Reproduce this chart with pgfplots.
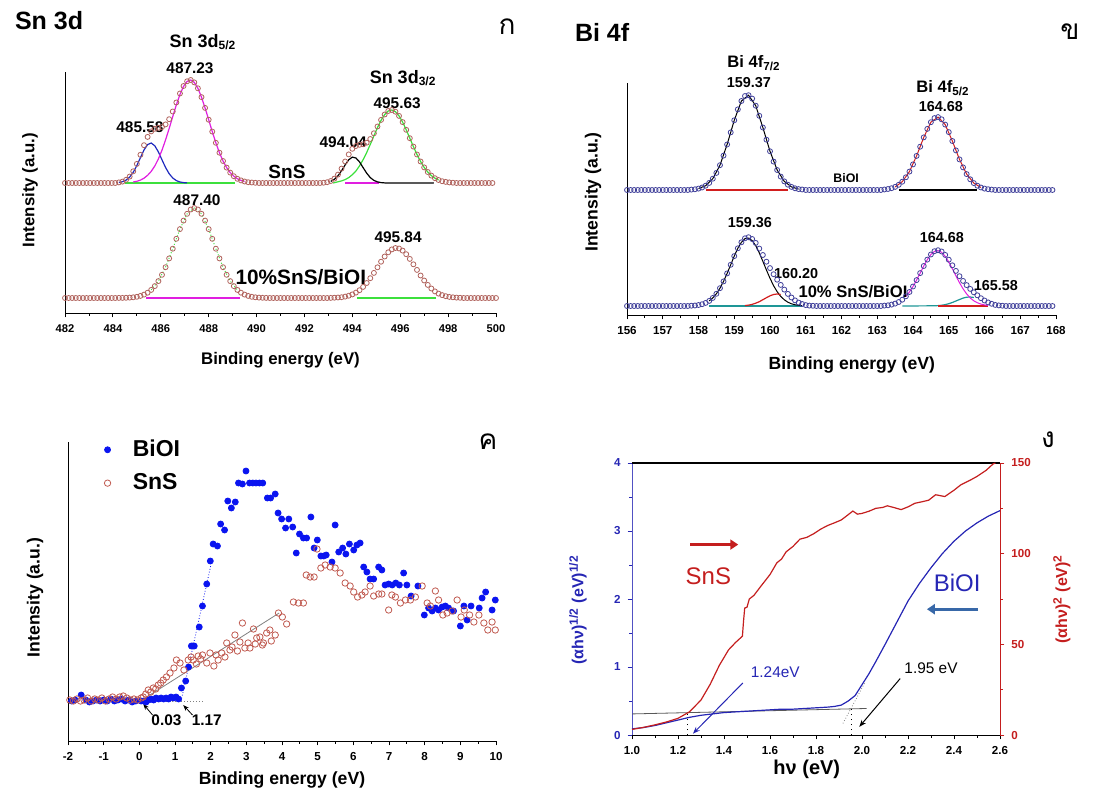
\documentclass[border=0pt]{standalone}
\usepackage{fontspec}
\setmainfont{Liberation Sans}
\newfontfamily\thaifont[Script=Thai]{Loma}
\usepackage{pgfplots}
\pgfplotsset{compat=1.18}
\usetikzlibrary{arrows.meta}
\newcommand\fs[1]{\fontsize{#1}{#1}\selectfont}
\definecolor{circA}{HTML}{B0625C}
\definecolor{fitM}{HTML}{E01EE0}
\definecolor{fitB}{HTML}{1E2ABE}
\definecolor{fitG}{HTML}{3CE03C}
\definecolor{circB}{HTML}{40409A}
\definecolor{fitT}{HTML}{1E9696}
\definecolor{fitR}{HTML}{D21E1E}
\definecolor{dotB}{HTML}{0A14F0}
\definecolor{circC}{HTML}{C05A50}
\definecolor{dblue}{HTML}{2626B4}
\definecolor{dred}{HTML}{C41E1E}
\definecolor{steel}{HTML}{3868A8}
\pgfplotsset{panel/.style={scale only axis, axis lines*=left, tick align=outside, ytick=\empty, clip=false,
  /pgf/number format/assume math mode=true, axis line style={line width=0.5pt},
  major tick length=2.2pt, minor tick length=1.3pt, every tick/.style={black,line width=0.4pt}}}
\begin{document}
\begin{tikzpicture}
\useasboundingbox (0,0) rectangle (553.5pt,-395.5pt);
% ---------------- (a) Sn 3d
\begin{axis}[panel, at={(32.5pt,-156.5pt)}, anchor=south west, width=215.5pt, height=120.5pt,
  xmin=482, xmax=500, ymin=0, ymax=241, xtick={482,484,...,500}, minor x tick num=1,
  tick label style={font=\bfseries\fs{5.6}}, label style={font=\bfseries\fs{8.4}},
  xlabel={Binding energy (eV)}, ylabel={Intensity (a.u.)},
  xlabel style={at={(axis description cs:0.5,-0.195)},anchor=center},
  ylabel style={at={(axis description cs:-0.081,0.51)},anchor=center}]
\addplot[fitG, line width=0.6pt] coordinates {(484.5,130)(489.1,130)};
\addplot[fitB, line width=0.6pt] coordinates {(484.25,130.5)(484.40,131.3)(484.55,132.9)(484.70,135.9)(484.85,140.7)(485.00,147.4)(485.15,155.3)(485.30,163.0)(485.45,168.4)(485.60,170.0)(485.75,167.2)(485.90,161.1)(486.05,153.2)(486.20,145.5)(486.35,139.3)(486.50,135.0)(486.65,132.4)(486.80,131.0)(486.95,130.4)(487.10,130.1)};
\addplot[fitM, line width=0.6pt] coordinates {(484.85,131.0)(485.00,131.7)(485.15,132.9)(485.30,134.8)(485.45,137.7)(485.60,141.6)(485.75,147.0)(485.90,154.1)(486.05,162.8)(486.20,173.1)(486.35,184.5)(486.50,196.5)(486.65,208.1)(486.80,218.5)(486.95,226.6)(487.10,231.6)(487.25,233.0)(487.40,230.6)(487.55,224.7)(487.70,215.9)(487.85,205.1)(488.00,193.3)(488.15,181.4)(488.30,170.2)(488.45,160.3)(488.60,152.0)(488.75,145.4)(488.90,140.4)(489.05,136.8)(489.20,134.2)(489.35,132.6)(489.50,131.5)};
\addplot[fitG, line width=0.6pt] coordinates {(493.2,130)(493.40,131.2)(493.55,132.1)(493.70,133.4)(493.85,135.4)(494.00,138.3)(494.15,142.0)(494.30,147.1)(494.45,153.3)(494.60,160.5)(494.75,168.6)(494.90,177.1)(495.05,185.4)(495.20,192.7)(495.35,198.4)(495.50,202.0)(495.65,203.0)(495.80,201.3)(495.95,197.1)(496.10,190.9)(496.25,183.2)(496.40,174.8)(496.55,166.4)(496.70,158.5)(496.85,151.5)(497.00,145.6)(497.15,141.0)(497.30,137.4)(497.45,134.8)(497.60,133.0)};
\addplot[fitM, line width=0.6pt] coordinates {(493.7,130)(495.1,130)};
\addplot[black, line width=0.6pt] coordinates {(493.10,131.6)(493.25,133.7)(493.40,137.2)(493.55,142.3)(493.70,148.1)(493.85,153.2)(494.00,155.9)(494.15,155.0)(494.30,151.1)(494.45,145.4)(494.60,139.8)(494.75,135.4)(494.90,132.6)(495.05,131.1)(495.20,130.4)(495.35,130.1)(497.4,130)};
\addplot[fitM, line width=0.6pt] coordinates {(485.4,15)(489.3,15)};
\addplot[fitG, line width=0.5pt, densely dotted] coordinates {(485.60,23.1)(485.90,31.9)(486.20,45.8)(486.50,64.3)(486.80,83.9)(487.10,99.2)(487.40,105.0)(487.70,99.2)(488.00,83.9)(488.30,64.3)(488.60,45.8)(488.90,31.9)(489.20,23.1)};
\addplot[fitG, line width=0.6pt] coordinates {(494.2,15)(497.5,15)};
\addplot[only marks, mark=o, mark size=1.25pt, circA, mark options={line width=0.4pt}] coordinates {
(482.00,130)(482.15,130)(482.30,130)(482.45,130)(482.60,130)(482.75,130)(482.90,130)(483.05,130)(483.20,130)(483.35,130)(483.50,130)(483.65,130)(483.80,130)(483.95,130)
(484.10,130.0)(484.25,130.6)(484.40,131.4)(484.55,133.2)(484.70,136.4)(484.85,141.7)(485.00,149.1)(485.15,158.2)(485.30,167.8)(485.45,176.1)(485.60,181.6)(485.75,184.2)(485.90,185.2)(486.05,186.0)(486.20,188.6)(486.35,193.8)(486.50,201.5)(486.65,210.5)(486.80,219.5)(486.95,227.0)(487.10,231.7)(487.25,233.0)(487.40,230.6)(487.55,224.7)(487.70,215.9)(487.85,205.1)(488.00,193.3)(488.15,181.4)(488.30,170.2)(488.45,160.3)(488.60,152.0)(488.75,145.4)(488.90,140.4)(489.05,136.8)(489.20,134.2)(489.35,132.6)(489.50,131.5)(489.65,130.8)(489.80,130.5)(489.95,130.2)
(490.10,130)(490.25,130)(490.40,130)(490.55,130)(490.70,130)(490.85,130)(491.00,130)(491.15,130)(491.30,130)(491.45,130)(491.60,130)(491.75,130)(491.90,130)(492.05,130)(492.20,130)(492.35,130)(492.50,130)(492.65,130)
(492.80,130.3)(492.95,130.8)(493.10,132.0)(493.25,134.4)(493.40,138.4)(493.55,144.4)(493.70,151.5)(493.85,158.6)(494.00,164.2)(494.15,167.0)(494.30,168.2)(494.45,168.7)(494.60,170.3)(494.75,174.0)(494.90,179.7)(495.05,186.5)(495.20,193.1)(495.35,198.5)(495.50,202.0)(495.65,203.0)(495.80,201.3)(495.95,197.1)(496.10,190.9)(496.25,183.2)(496.40,174.8)(496.55,166.4)(496.70,158.5)(496.85,151.5)(497.00,145.6)(497.15,141.0)(497.30,137.4)(497.45,134.8)(497.60,133.0)(497.75,131.8)(497.90,131.1)(498.05,130.6)(498.20,130.3)
(498.35,130)(498.50,130)(498.65,130)(498.80,130)(498.95,130)(499.10,130)(499.25,130)(499.40,130)(499.55,130)(499.70,130)(499.85,130)};
\addplot[only marks, mark=o, mark size=1.25pt, circA, mark options={line width=0.4pt}] coordinates {
(482.00,15)(482.15,15)(482.30,15)(482.45,15)(482.60,15)(482.75,15)(482.90,15)(483.05,15)(483.20,15)(483.35,15)(483.50,15)(483.65,15)(483.80,15)(483.95,15)
(484.10,15.0)(484.25,15.1)(484.40,15.1)(484.55,15.2)(484.70,15.4)(484.85,15.7)(485.00,16.2)(485.15,17.1)(485.30,18.4)(485.45,20.3)(485.60,23.1)(485.75,26.9)(485.90,31.9)(486.05,38.2)(486.20,45.8)(486.35,54.6)(486.50,64.3)(486.65,74.2)(486.80,83.9)(486.95,92.4)(487.10,99.2)(487.25,103.5)(487.40,105.0)(487.55,103.5)(487.70,99.2)(487.85,92.4)(488.00,83.9)(488.15,74.2)(488.30,64.3)(488.45,54.6)(488.60,45.8)(488.75,38.2)(488.90,31.9)(489.05,26.9)(489.20,23.1)(489.35,20.3)(489.50,18.4)(489.65,17.1)(489.80,16.2)(489.95,15.7)(490.10,15.4)(490.25,15.2)(490.40,15.1)
(490.55,15)(490.70,15)(490.85,15)(491.00,15)(491.15,15)(491.30,15)(491.45,15)(491.60,15)(491.75,15)(491.90,15)(492.05,15)(492.20,15)(492.35,15)(492.50,15)(492.65,15)(492.80,15)(492.95,15)
(493.10,15.1)(493.25,15.3)(493.40,15.5)(493.55,15.8)(493.70,16.4)(493.85,17.3)(494.00,18.6)(494.15,20.4)(494.30,22.8)(494.45,26.1)(494.60,30.0)(494.75,34.8)(494.90,40.1)(495.05,45.7)(495.20,51.3)(495.35,56.5)(495.50,60.7)(495.65,63.6)(495.80,65.0)(495.95,64.5)(496.10,62.4)(496.25,58.8)(496.40,54.1)(496.55,48.7)(496.70,43.1)(496.85,37.5)(497.00,32.5)(497.15,28.1)(497.30,24.5)(497.45,21.6)(497.60,19.4)(497.75,17.9)(497.90,16.8)(498.05,16.1)(498.20,15.7)(498.35,15.4)(498.50,15.2)
(498.65,15)(498.80,15)(498.95,15)(499.10,15)(499.25,15)(499.40,15)(499.55,15)(499.70,15)(499.85,15)(500.00,15)};
\node[font=\bfseries\fs{9}] at (axis cs:487.76,271) {Sn 3d\textsubscript{5/2}};
\node[font=\bfseries\fs{7.7}] at (axis cs:487.22,245) {487.23};
\node[font=\bfseries\fs{7.7}] at (axis cs:485.13,186) {485.58};
\node[font=\bfseries\fs{9}] at (axis cs:496.12,235) {Sn 3d\textsubscript{3/2}};
\node[font=\bfseries\fs{7.7}] at (axis cs:495.87,210) {495.63};
\node[font=\bfseries\fs{7.7}] at (axis cs:493.62,171) {494.04};
\node[font=\bfseries\fs{9.5}] at (axis cs:491.27,141) {SnS};
\node[font=\bfseries\fs{7.7}] at (axis cs:487.51,113) {487.40};
\node[font=\bfseries\fs{7.7}] at (axis cs:495.91,76) {495.84};
\node[font=\bfseries\fs{10.4}] at (axis cs:491.85,36) {10\%SnS/BiOI};
\end{axis}
% ---------------- (b) Bi 4f
\begin{axis}[panel, at={(313.5pt,-157.5pt)}, anchor=south west, width=214.5pt, height=116pt,
  xmin=156, xmax=168, ymin=0, ymax=232, xtick={156,...,168}, minor x tick num=1,
  tick label style={font=\bfseries\fs{5.8}}, label style={font=\bfseries\fs{8.8}},
  xlabel={Binding energy (eV)}, ylabel={Intensity (a.u.)},
  xlabel style={at={(axis description cs:0.524,-0.215)},anchor=center},
  ylabel style={at={(axis description cs:-0.079,0.53)},anchor=center}]
\addplot[fitR, line width=0.6pt] coordinates {(158.2,125)(160.5,125)};
\addplot[black, line width=0.5pt] coordinates {(158.0,126.4)(158.2,129.3)(158.4,136.3)(158.6,149.8)(158.8,170.5)(159.0,194.7)(159.2,214.0)(159.4,219.8)(159.6,209.3)(159.8,187.5)(160.0,163.7)(160.2,145.0)(160.4,133.6)(160.6,128.1)(160.8,125.9)};
\addplot[black, line width=0.6pt] coordinates {(163.6,125)(165.8,125)};
\addplot[fitR, line width=0.5pt] coordinates {(163.5,128.1)(163.7,133.3)(163.9,143.4)(164.1,159.1)(164.3,177.6)(164.5,192.8)(164.7,197.9)(164.9,190.4)(165.1,174.0)(165.3,155.6)(165.5,140.9)(165.7,131.9)(165.9,127.5)};
\addplot[fitT, line width=0.6pt] coordinates {(158.3,9)(160.9,9)};
\addplot[black, line width=0.5pt] coordinates {(158.3,14.1)(158.4,17.1)(158.5,21.2)(158.6,26.8)(158.7,33.6)(158.8,41.6)(158.9,50.2)(159.0,58.9)(159.1,66.7)(159.2,72.7)(159.3,76.3)(159.4,76.9)(159.5,74.4)(159.6,69.3)(159.7,62.1)(159.8,53.7)(159.9,45.0)(160.0,36.7)(160.1,29.3)(160.2,23.3)(160.3,18.6)(160.4,15.2)(160.5,12.8)(160.6,11.2)(160.7,10.25)(160.8,9.7)(160.9,9.3)};
\addplot[fitR, line width=0.6pt] coordinates {(159.3,9.4)(159.4,9.9)(159.5,10.6)(159.6,11.8)(159.7,13.3)(159.8,15.3)(159.9,17.3)(160.0,19.2)(160.1,20.5)(160.2,21.0)(160.3,20.5)};
\addplot[fitT, line width=0.6pt] coordinates {(163.7,9)(164.6,9.2)(164.7,9.4)(164.8,9.75)(164.9,10.4)(165.0,11.3)(165.1,12.5)(165.2,14.0)(165.3,15.5)(165.4,16.9)(165.5,17.8)(165.6,18.0)(165.7,17.5)};
\addplot[fitR, line width=0.6pt] coordinates {(164.7,9)(166.1,9)};
\addplot[fitM, line width=0.5pt] coordinates {(163.8,18.65)(163.9,23.0)(164.0,28.5)(164.1,34.9)(164.2,41.9)(164.3,49.0)(164.4,55.4)(164.5,60.5)(164.6,63.6)(164.7,64.4)(164.8,62.7)(164.9,58.7)(165.0,53.0)(165.1,46.2)(165.2,39.1)(165.3,32.3)(165.4,26.2)(165.5,21.1)(165.6,17.1)(165.7,14.2)(165.8,12.25)(165.9,10.9)(166.0,10.1)(166.1,9.6)};
\addplot[only marks, mark=o, mark size=1.25pt, circB, mark options={line width=0.4pt}] coordinates {
(156.0,125)(156.1,125)(156.2,125)(156.3,125)(156.4,125)(156.5,125)(156.6,125)(156.7,125)(156.8,125)(156.9,125)(157.0,125)(157.1,125)(157.2,125)(157.3,125)(157.4,125)(157.5,125)(157.6,125)(157.7,125)
(157.8,125.4)(157.9,125.7)(158.0,126.4)(158.1,127.5)(158.2,129.3)(158.3,132.1)(158.4,136.3)(158.5,142.1)(158.6,149.8)(158.7,159.4)(158.8,170.5)(158.9,182.6)(159.0,194.7)(159.1,205.6)(159.2,214.0)(159.3,219.0)(159.4,219.8)(159.5,216.4)(159.6,209.3)(159.7,199.2)(159.8,187.5)(159.9,175.3)(160.0,163.7)(160.1,153.4)(160.2,145.0)(160.3,138.4)(160.4,133.6)(160.5,130.3)(160.6,128.1)(160.7,126.7)(160.8,125.9)(160.9,125.5)
(161.0,125)(161.1,125)(161.2,125)(161.3,125)(161.4,125)(161.5,125)(161.6,125)(161.7,125)(161.8,125)(161.9,125)(162.0,125)(162.1,125)(162.2,125)(162.3,125)(162.4,125)(162.5,125)(162.6,125)(162.7,125)(162.8,125)(162.9,125)(163.0,125)(163.1,125)
(163.2,125.5)(163.3,126.0)(163.4,126.8)(163.5,128.1)(163.6,130.2)(163.7,133.3)(163.8,137.7)(163.9,143.4)(164.0,150.6)(164.1,159.1)(164.2,168.3)(164.3,177.6)(164.4,186.1)(164.5,192.8)(164.6,196.9)(164.7,197.9)(164.8,195.7)(164.9,190.4)(165.0,182.9)(165.1,174.0)(165.2,164.6)(165.3,155.6)(165.4,147.6)(165.5,140.9)(165.6,135.7)(165.7,131.9)(165.8,129.3)(165.9,127.5)(166.0,126.4)(166.1,125.8)(166.2,125.4)
(166.3,125)(166.4,125)(166.5,125)(166.6,125)(166.7,125)(166.8,125)(166.9,125)(167.0,125)(167.1,125)(167.2,125)(167.3,125)(167.4,125)(167.5,125)(167.6,125)(167.7,125)(167.8,125)(167.9,125)};
\addplot[only marks, mark=o, mark size=1.25pt, circB, mark options={line width=0.4pt}] coordinates {
(156.0,9)(156.1,9)(156.2,9)(156.3,9)(156.4,9)(156.5,9)(156.6,9)(156.7,9)(156.8,9)(156.9,9)(157.0,9)(157.1,9)(157.2,9)(157.3,9)(157.4,9)(157.5,9)(157.6,9)(157.7,9)
(157.8,9.3)(157.9,9.5)(158.0,10.0)(158.1,10.8)(158.2,12.1)(158.3,14.1)(158.4,17.1)(158.5,21.2)(158.6,26.8)(158.7,33.6)(158.8,41.6)(158.9,50.2)(159.0,58.9)(159.1,66.7)(159.2,72.7)(159.3,76.7)(159.4,77.8)(159.5,76.0)(159.6,72.1)(159.7,66.4)(159.8,60.0)(159.9,53.3)(160.0,46.9)(160.1,40.8)(160.2,35.3)(160.3,30.1)(160.4,25.4)(160.5,21.1)(160.6,17.5)(160.7,14.6)(160.8,12.4)(160.9,11.0)(161.0,9.9)(161.1,9.4)(161.2,9.2)
(161.3,9)(161.4,9)(161.5,9)(161.6,9)(161.7,9)(161.8,9)(161.9,9)(162.0,9)(162.1,9)(162.2,9)(162.3,9)(162.4,9)(162.5,9)(162.6,9)(162.7,9)(162.8,9)(162.9,9)(163.0,9)(163.1,9)
(163.2,9.4)(163.3,9.7)(163.4,10.4)(163.5,11.4)(163.6,13.0)(163.7,15.3)(163.8,18.7)(163.9,23.0)(164.0,28.5)(164.1,34.9)(164.2,41.9)(164.3,49.0)(164.4,55.4)(164.5,60.5)(164.6,63.8)(164.7,64.8)(164.8,63.5)(164.9,60.1)(165.0,55.3)(165.1,49.7)(165.2,44.1)(165.3,38.8)(165.4,34.1)(165.5,29.9)(165.6,26.1)(165.7,22.7)(165.8,19.7)(165.9,16.8)(166.0,14.5)(166.1,12.6)(166.2,11.2)(166.3,10.1)(166.4,9.6)(166.5,9.3)
(166.6,9)(166.7,9)(166.8,9)(166.9,9)(167.0,9)(167.1,9)(167.2,9)(167.3,9)(167.4,9)(167.5,9)(167.6,9)(167.7,9)(167.8,9)(167.9,9)};
\node[font=\bfseries\fs{8.3}] at (axis cs:159.55,252) {Bi 4f\textsubscript{7/2}};
\node[font=\bfseries\fs{7.2}] at (axis cs:159.41,232) {159.37};
\node[font=\bfseries\fs{8.3}] at (axis cs:164.84,227) {Bi 4f\textsubscript{5/2}};
\node[font=\bfseries\fs{7.2}] at (axis cs:164.78,208) {164.68};
\node[font=\bfseries\fs{6.2}] at (axis cs:162.13,137) {BiOI};
\node[font=\bfseries\fs{7.2}] at (axis cs:159.44,92) {159.36};
\node[font=\bfseries\fs{7.2}] at (axis cs:164.81,77) {164.68};
\node[font=\bfseries\fs{7.2}] at (axis cs:160.73,41) {160.20};
\node[font=\bfseries\fs{7.2}] at (axis cs:166.32,29) {165.58};
\node[font=\bfseries\fs{8.3}] at (axis cs:162.32,23) {10\% SnS/BiOI};
\end{axis}
% ---------------- (c) valence band
\begin{axis}[panel, at={(34pt,-370.5pt)}, anchor=south west, width=214pt, height=149.5pt,
  xmin=-2, xmax=10, ymin=0, ymax=299, xtick={-2,...,10}, minor x tick num=1,
  tick label style={font=\bfseries\fs{5.8}}, label style={font=\bfseries\fs{8.8}},
  xlabel={Binding energy (eV)}, ylabel={Intensity (a.u.)},
  xlabel style={at={(axis description cs:0.5,-0.13)},anchor=center},
  ylabel style={at={(axis description cs:-0.077,0.48)},anchor=center},
  legend style={draw=none, fill=none, font=\bfseries\fs{11.5}, at={(axis description cs:0.07,1.035)}, anchor=north west, row sep=3pt,
    /tikz/every odd column/.append style={column sep=9pt}},
  legend cell align=left]
\addplot[only marks, mark=*, mark size=1.5pt, dotB] coordinates {
(-1.90,40)(-1.80,41)(-1.63,46)(-1.50,41)(-1.40,39)(-1.30,40)(-1.20,41)(-1.10,40)(-1.00,41)(-0.90,40)(-0.80,42)(-0.70,40)(-0.60,41)(-0.50,42)(-0.40,40)(-0.30,41)(-0.20,39)(-0.10,40)
(0.05,40)(0.12,40)(0.19,39)(0.26,41)(0.33,42)(0.40,41)(0.47,43)(0.54,42)(0.61,43)(0.68,42)(0.75,43)(0.82,42)(0.89,44)(0.96,43)(1.03,44)(1.10,42)
(1.18,53)(1.30,60)(1.38,74)(1.46,95)(1.50,95)(1.54,95)(1.68,114)(1.77,135)(1.89,157)(1.99,180)(2.07,197)(2.19,195)(2.28,217)(2.39,211)(2.48,240)(2.58,233)(2.69,239)(2.78,258)(2.89,257)(2.99,270)
(3.09,258)(3.18,258)(3.27,258)(3.37,258)(3.46,258)(3.59,243)(3.68,243)(3.81,247)(3.89,228)(3.99,222)(4.10,213)(4.19,222)(4.30,214)(4.40,188)(4.49,207)(4.60,203)(4.69,203)(4.81,224)(4.90,193)(4.99,201)
(5.09,185)(5.17,185)(5.24,186)(5.40,179)(5.49,216)(5.59,189)(5.70,193)(5.79,187)(5.89,197)(6.01,191)(6.10,196)(6.19,198)(6.29,174)(6.38,169)(6.47,162)(6.57,162)(6.71,174)(6.80,171)(6.89,156)(6.99,157)
(7.09,156)(7.19,158)(7.29,156)(7.41,168)(7.50,156)(7.62,145)(7.81,155)(7.99,126)(8.11,133)(8.21,130)(8.30,133)(8.39,131)(8.49,134)(8.58,135)(8.67,133)(8.81,130)(9.00,115)(9.10,135)(9.19,121)(9.30,135)(9.53,133)(9.61,143)(9.71,149)(9.89,131)(9.98,141)};
\addlegendentry{BiOI}
\addplot[only marks, mark=o, mark size=1.6pt, circC, mark options={line width=0.4pt}] coordinates {
(-1.95,41)(-1.85,40)(-1.75,42)(-1.65,40)(-1.55,41)(-1.45,43)(-1.35,40)(-1.25,42)(-1.15,41)(-1.05,43)(-0.95,40)(-0.85,42)(-0.75,44)(-0.65,42)(-0.55,44)(-0.45,45)(-0.35,43)(-0.25,41)(-0.15,42)(-0.05,41)
(0.05,43)(0.11,44)(0.18,47)(0.25,51)(0.32,49)(0.39,53)(0.46,52)(0.53,56)(0.60,58)(0.67,61)(0.76,64)(0.86,68)(0.97,73)(1.04,81)(1.14,78)(1.25,71)(1.37,81)(1.45,84)(1.51,81)(1.60,77)(1.65,85)(1.72,82)(1.77,86)(1.89,78)(1.98,88)
(2.09,75)(2.15,86)(2.21,81)(2.31,88)(2.40,84)(2.45,98)(2.54,91)(2.60,94)(2.68,106)(2.75,90)(2.82,99)(2.89,118)(2.96,93)(3.05,98)(3.10,93)(3.20,112)(3.25,97)(3.29,103)(3.38,104)(3.45,96)(3.48,98)(3.57,108)(3.66,111)(3.70,100)(3.81,106)(3.90,128)
(4.01,124)(4.13,117)(4.32,139)(4.46,138)(4.60,138)(4.68,166)(4.79,164)(4.90,164)(4.98,192)(5.09,173)(5.21,176)(5.35,174)(5.49,173)(5.63,168)(5.77,158)(5.91,155)(6.01,149)(6.12,144)(6.24,146)(6.33,149)(6.47,155)(6.57,145)(6.71,147)(6.80,147)(6.99,131)
(7.08,146)(7.18,144)(7.32,138)(7.46,141)(7.60,141)(7.74,144)(7.93,155)(8.07,138)(8.16,135)(8.30,150)(8.39,141)(8.51,126)(8.63,128)(8.77,130)(8.91,141)(9.02,124)(9.11,131)(9.26,126)(9.38,119)(9.52,126)(9.66,118)(9.77,111)(9.89,119)(9.98,111)};
\addlegendentry{SnS}
\addplot[forget plot, dotB, densely dotted, line width=0.4pt] coordinates {(1.17,40)(2.0,175)};
\addplot[forget plot, gray, line width=0.4pt] coordinates {(0.03,40)(3.92,128)};
\addplot[forget plot, gray, densely dotted, line width=0.5pt] coordinates {(0,40)(1.8,40)};
\draw[-{Stealth[length=3pt]}, line width=0.4pt] (axis cs:0.37,26) -- (axis cs:0.11,37);
\draw[-{Stealth[length=3pt]}, line width=0.4pt] (axis cs:1.49,26) -- (axis cs:1.23,36);
\node[font=\bfseries\fs{7.7}] at (axis cs:0.76,21) {0.03};
\node[font=\bfseries\fs{7.7}] at (axis cs:1.89,21) {1.17};
\end{axis}
% ---------------- (d) Tauc plots
\begin{axis}[scale only axis, at={(316pt,-367.5pt)}, anchor=south west, width=184pt, height=136pt,
  xmin=1, xmax=2.6, ymin=0, ymax=4, axis x line*=bottom, axis y line*=left, tick align=outside, clip=false,
  /pgf/number format/assume math mode=true,
  xtick={1.0,1.2,1.4,1.6,1.8,2.0,2.2,2.4,2.6}, minor x tick num=1, ytick={0,1,2,3,4}, minor y tick num=1,
  major tick length=2.2pt, minor tick length=1.3pt,
  x tick label style={font=\bfseries\fs{5.8}, /pgf/number format/.cd, fixed, fixed zerofill, precision=1},
  y tick label style={font=\bfseries\fs{5.8}, dblue},
  y axis line style={dblue!80}, every y tick/.style={dblue,line width=0.4pt}, every x tick/.style={black,line width=0.4pt},
  xlabel={hν (eV)}, xlabel style={font=\bfseries\fs{10}, at={(axis description cs:0.475,-0.125)}, anchor=center},
  ylabel={(αhν)\textsuperscript{1/2} (eV)\textsuperscript{1/2}},
  ylabel style={font=\bfseries\fs{8}, dblue, at={(axis description cs:-0.147,0.46)}, anchor=center}]
\addplot[gray!70!black, line width=0.4pt] coordinates {(1.0,0.31)(2.02,0.39)};
\addplot[gray, densely dotted, line width=0.4pt] coordinates {(1.917,0.17)(2.014,0.78)};
\addplot[black, dotted, line width=0.5pt] coordinates {(1.24,0)(1.24,0.33)};
\addplot[black, dotted, line width=0.5pt] coordinates {(1.953,0)(1.953,0.40)};
\addplot[dblue, line width=0.6pt] coordinates {(1.00,0.09)(1.05,0.11)(1.10,0.14)(1.15,0.18)(1.20,0.22)(1.25,0.26)(1.30,0.29)(1.35,0.31)(1.40,0.33)(1.45,0.34)(1.50,0.35)(1.55,0.36)(1.60,0.37)(1.65,0.38)(1.70,0.38)(1.75,0.39)(1.80,0.40)(1.85,0.41)(1.88,0.42)(1.91,0.44)(1.94,0.50)(1.97,0.58)(2.00,0.74)(2.03,0.90)(2.06,1.08)(2.10,1.33)(2.15,1.65)(2.20,1.97)(2.25,2.23)(2.30,2.46)(2.35,2.67)(2.40,2.85)(2.45,3.00)(2.50,3.12)(2.55,3.22)(2.60,3.30)};
\draw[line width=1pt] (rel axis cs:0,1) -- (rel axis cs:1,1);
\draw[dred, line width=1.4pt, -{Triangle[length=4pt,width=5pt]}] (axis cs:1.253,2.80) -- (axis cs:1.462,2.80);
\draw[steel, line width=1.4pt, -{Triangle[length=4pt,width=5pt]}] (axis cs:2.505,1.85) -- (axis cs:2.282,1.85);
\draw[dblue, line width=0.5pt, -{Stealth[length=3.5pt]}] (axis cs:1.482,0.766) -- (axis cs:1.265,0.02);
\draw[black, line width=0.5pt, -{Stealth[length=3.5pt]}] (axis cs:2.166,0.83) -- (axis cs:1.988,0.12);
\node[dred, font=\fs{12}] at (axis cs:1.332,2.33) {SnS};
\node[dblue, font=\fs{12}] at (axis cs:2.414,2.23) {BiOI};
\node[dblue, font=\fs{7.7}] at (axis cs:1.623,0.93) {1.24eV};
\node[black, font=\fs{7.7}] at (axis cs:2.30,0.98) {1.95 eV};
\end{axis}
\begin{axis}[scale only axis, at={(316pt,-367.5pt)}, anchor=south west, width=184pt, height=136pt,
  xmin=1, xmax=2.6, ymin=0, ymax=150, axis y line*=right, axis x line=none, tick align=outside, clip=false,
  /pgf/number format/assume math mode=true,
  ytick={0,50,100,150}, minor y tick num=1, major tick length=2.2pt, minor tick length=1.3pt,
  y tick label style={font=\bfseries\fs{5.8}, dred},
  y axis line style={dred}, every y tick/.style={dred,line width=0.4pt},
  ylabel={(αhν)\textsuperscript{2} (eV)\textsuperscript{2}},
  ylabel style={font=\bfseries\fs{8}, dred, at={(axis description cs:1.168,0.5)}, anchor=center}]
\addplot[dred, line width=0.6pt] coordinates {(1.00,3.1)(1.05,4.2)(1.10,5.6)(1.15,7.2)(1.20,9.2)(1.25,12.8)(1.30,19.3)(1.34,28)(1.38,38.5)(1.42,47)(1.45,51)(1.48,54.5)(1.485,63)(1.49,70)(1.50,70.5)(1.51,75)(1.53,77)(1.56,82)(1.60,88.5)(1.63,95)(1.65,97)(1.67,101)(1.70,104)(1.73,108)(1.76,109)(1.79,111)(1.82,113.5)(1.85,115.5)(1.88,117)(1.91,118.6)(1.94,121.5)(1.96,123.5)(1.98,121.8)(2.00,122.2)(2.03,123.4)(2.06,125)(2.09,125.5)(2.11,126.4)(2.14,125.4)(2.17,124.3)(2.20,125.8)(2.23,127.8)(2.26,128.6)(2.29,129.5)(2.32,132.5)(2.34,132)(2.36,131.5)(2.40,135)(2.43,138)(2.47,140.5)(2.50,142.6)(2.54,146)(2.57,149.5)(2.58,150)};
\end{axis}
% panel titles and letters
\node[anchor=west, font=\bfseries\fs{12.5}] at (4pt,-10.5pt) {Sn 3d};
\node[anchor=west, font=\bfseries\fs{12.5}] at (284pt,-16pt) {Bi 4f};
\node[font=\thaifont\fs{14}] at (253.5pt,-13.5pt) {ก};
\node[font=\thaifont\fs{14}] at (535pt,-16pt) {ข};
\node[font=\thaifont\fs{14}] at (244pt,-221pt) {ค};
\node[font=\thaifont\fs{14}] at (524pt,-220pt) {ง};
\end{tikzpicture}
\end{document}
